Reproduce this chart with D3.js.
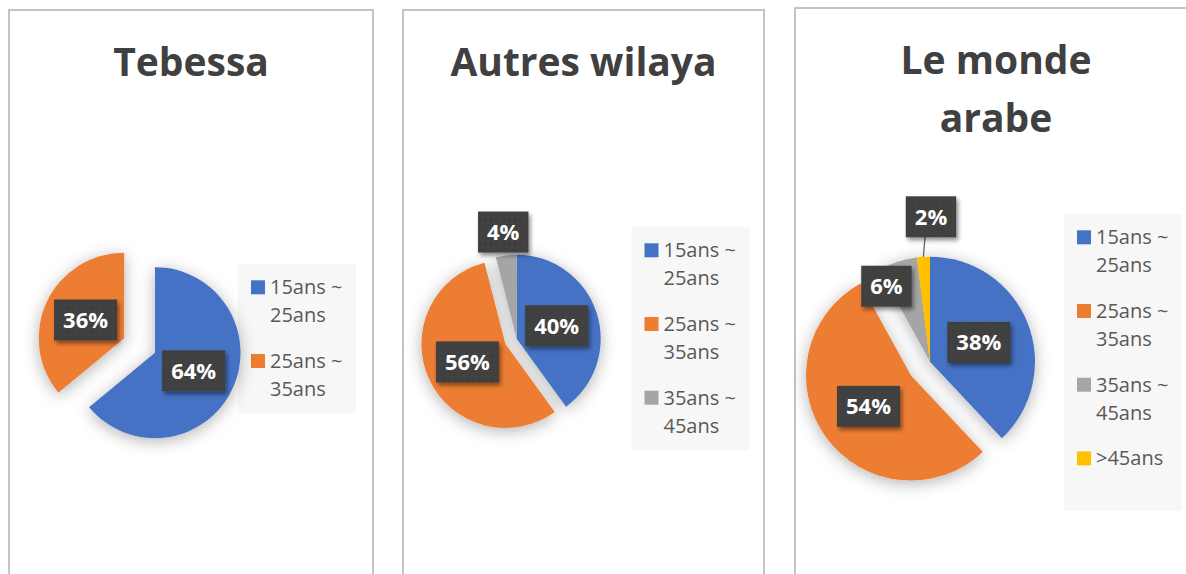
<!doctype html>
<html lang="fr">
  <head>
    <meta charset="UTF-8" />
    <title>Répartition par tranche d'âge</title>
    <script src="https://d3js.org/d3.v7.min.js"></script>
    <style>
      body {
        margin: 0;
        padding: 0;
        background: #fff;
        font-family: 'Open Sans', 'Noto Sans', sans-serif;
      }
      .title {
        font-weight: 700;
        font-size: 39px;
        fill: #404040;
      }
      .legend text {
        font-size: 20px;
        fill: #595959;
      }
      .label text {
        font-size: 22px;
        font-weight: 700;
        fill: #fff;
      }
    </style>
  </head>
  <body>
    <svg id="chart" width="1186" height="574"></svg>

    <script>
      const ageGroups = ['15ans ~ 25ans', '25ans ~ 35ans', '35ans ~ 45ans', '>45ans'];
      const tebessaValues = [64, 36];
      const autresWilayaValues = [40, 56, 4];
      const mondeArabeValues = [38, 54, 6, 2];
      const panelTitles = [['Tebessa'], ['Autres wilaya'], ['Le monde', 'arabe']];

      const color = d3
        .scaleOrdinal()
        .domain(ageGroups)
        .range(['#4472c4', '#ed7d31', '#a5a5a5', '#ffc000']);

      // layout of each chart panel (positions)
      const panels = [
        {
          values: tebessaValues,
          frame: [9, 10, 364],
          titleX: 191,
          titleY: 76,
          cx: 139.6,
          cy: 345.4,
          r: 85.5,
          explode: [17, 17],
          labels: [[0.5], [0.5]],
          legend: [238, 264],
        },
        {
          values: autresWilayaValues,
          frame: [403, 10, 361],
          titleX: 583.5,
          titleY: 76,
          cx: 516.7,
          cy: 338.7,
          r: 84,
          explode: [0, 12.5, 0],
          labels: [[0.5], [0.5], [1.28]],
          legend: [631.5, 227],
        },
        {
          values: mondeArabeValues,
          frame: [795, 8, 420],
          titleX: 996,
          titleY: 74,
          cx: 930,
          cy: 361.7,
          r: 105,
          explode: [0, 23.5, 0, 0],
          labels: [[0.5], [0.5], [0.83, 330], [1.38, 0.4, true]],
          legend: [1064, 214],
        },
      ];

      const svg = d3.select('#chart');
      const defs = svg.append('defs');

      defs
        .append('filter')
        .attr('id', 'pieShadow')
        .attr('x', '-40%')
        .attr('y', '-40%')
        .attr('width', '180%')
        .attr('height', '180%')
        .append('feDropShadow')
        .attr('dx', 0)
        .attr('dy', 3)
        .attr('stdDeviation', 8)
        .attr('flood-color', '#000')
        .attr('flood-opacity', 0.3);

      defs
        .append('filter')
        .attr('id', 'labelShadow')
        .attr('x', '-30%')
        .attr('y', '-30%')
        .attr('width', '160%')
        .attr('height', '160%')
        .append('feDropShadow')
        .attr('dx', 2)
        .attr('dy', 3)
        .attr('stdDeviation', 2)
        .attr('flood-color', '#000')
        .attr('flood-opacity', 0.45);

      const dots = defs
        .append('pattern')
        .attr('id', 'dots')
        .attr('width', 6)
        .attr('height', 6)
        .attr('patternUnits', 'userSpaceOnUse');
      dots.append('rect').attr('width', 6).attr('height', 6).attr('fill', '#404040');
      dots.append('circle').attr('cx', 3).attr('cy', 3).attr('r', 0.8).attr('fill', '#4d4d4d');

      const pie = d3
        .pie()
        .sort(null)
        .value((d) => d);

      panels.forEach(function (p, i) {
        const g = svg.append('g');

        // panel frame
        g.append('rect')
          .attr('x', p.frame[0])
          .attr('y', p.frame[1])
          .attr('width', p.frame[2])
          .attr('height', 700)
          .attr('fill', '#fff')
          .attr('stroke', '#c4c4c4')
          .attr('stroke-width', 2);

        // title
        g.append('text')
          .attr('class', 'title')
          .attr('text-anchor', 'middle')
          .selectAll('tspan')
          .data(panelTitles[i])
          .join('tspan')
          .attr('x', p.titleX)
          .attr('y', (d, k) => p.titleY + k * 58)
          .text((d) => d);

        const arcs = pie(p.values);
        const arc = d3.arc().innerRadius(0).outerRadius(p.r);

        function sliceCenter(a, k) {
          const mid = (a.startAngle + a.endAngle) / 2;
          const e = p.explode[k];
          return [p.cx + e * Math.sin(mid), p.cy - e * Math.cos(mid)];
        }

        // legend (drawn before the pie so the pie shadow falls over it)
        const lg = g.append('g').attr('class', 'legend');
        const n = p.values.length;
        lg.append('rect')
          .attr('x', p.legend[0])
          .attr('y', p.legend[1])
          .attr('width', 118)
          .attr('height', 73.7 * n + 2)
          .attr('fill', '#f7f7f7');

        const items = lg
          .selectAll('g.item')
          .data(ageGroups.slice(0, n))
          .join('g')
          .attr('class', 'item')
          .attr(
            'transform',
            (d, k) => `translate(${p.legend[0]},${p.legend[1] + 16.3 + k * 73.7})`,
          );
        items
          .append('rect')
          .attr('x', 13)
          .attr('y', 0)
          .attr('width', 14)
          .attr('height', 14)
          .attr('fill', (d) => color(d));
        items
          .append('text')
          .selectAll('tspan')
          .data((d) => d.replace('~ ', '~\n').split('\n'))
          .join('tspan')
          .attr('x', 32)
          .attr('y', (d, k) => 14 + k * 28)
          .text((d) => d);

        // pie slices
        const pg = g.append('g').attr('filter', 'url(#pieShadow)');
        pg.selectAll('path')
          .data(arcs)
          .join('path')
          .attr('transform', (a, k) => `translate(${sliceCenter(a, k)})`)
          .attr('d', arc)
          .attr('fill', (a, k) => color(ageGroups[k]));

        // data labels
        const lab = g.append('g').attr('class', 'label');
        arcs.forEach(function (a, k) {
          const spec = p.labels[k];
          const c = sliceCenter(a, k);
          const mid = (a.startAngle + a.endAngle) / 2;
          const ang = spec[1] !== undefined ? (spec[1] * Math.PI) / 180 : mid;
          const lx = c[0] + spec[0] * p.r * Math.sin(ang);
          const ly = c[1] - spec[0] * p.r * Math.cos(ang);

          if (spec[2]) {
            const edge = [c[0] + p.r * Math.sin(mid), c[1] - p.r * Math.cos(mid)];
            lab.append('line')
              .attr('x1', lx - 6)
              .attr('y1', ly + 20)
              .attr('x2', edge[0])
              .attr('y2', edge[1])
              .attr('stroke', '#595959')
              .attr('stroke-width', 1.2);
          }

          const lg2 = lab.append('g').attr('transform', `translate(${lx},${ly})`);
          const box = lg2.append('rect').attr('fill', 'url(#dots)').attr('filter', 'url(#labelShadow)');
          const t = lg2
            .append('text')
            .attr('text-anchor', 'middle')
            .attr('dy', '0.36em')
            .text(p.values[k] + '%');
          const w = t.node().getComputedTextLength() + 18;
          box.attr('x', -w / 2).attr('y', -20.5).attr('width', w).attr('height', 41);
        });
      });
    </script>
  </body>
</html>
